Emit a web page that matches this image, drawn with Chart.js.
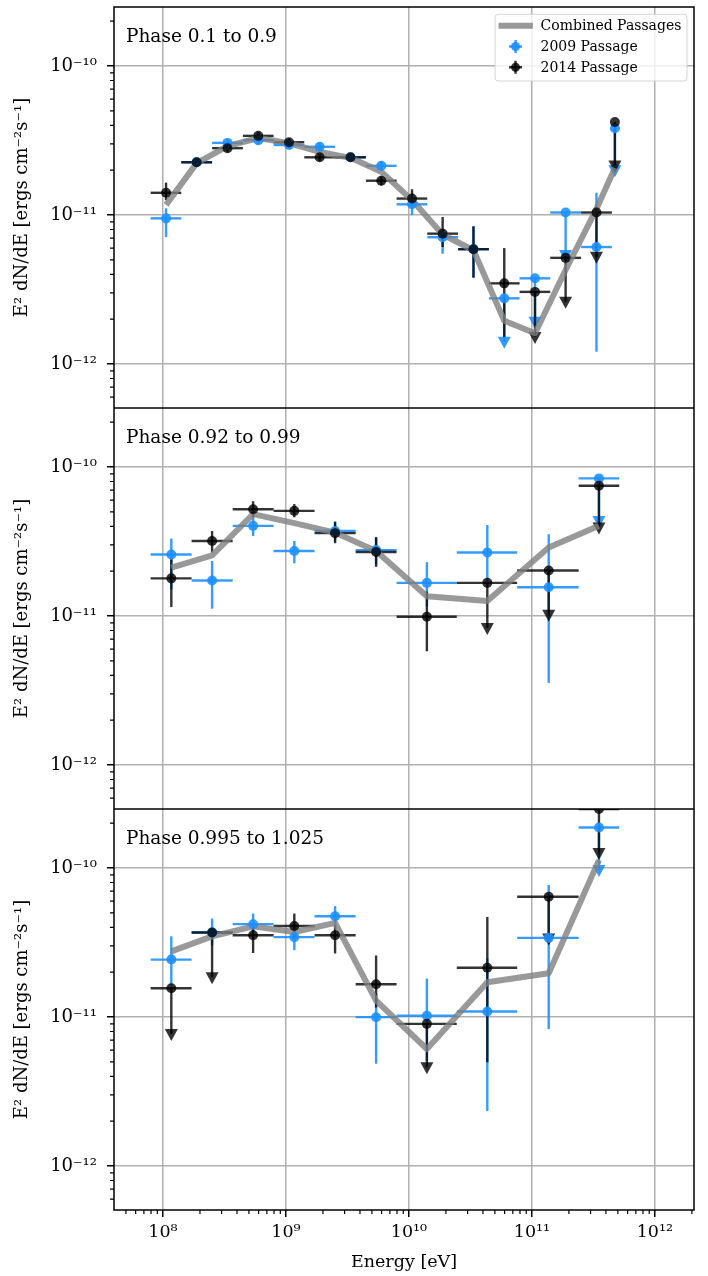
<!DOCTYPE html>
<html lang="en">
<head>
<meta charset="UTF-8" />
<title>Spectra by orbital phase</title>
<script src="https://cdn.jsdelivr.net/npm/chart.js"></script>
<style>
  html, body { margin: 0; padding: 0; background: #fff; }
  #wrap { position: relative; width: 708px; height: 1276px; }
  canvas { position: absolute; left: 0; }
</style>
</head>
<body>
<div id="wrap">
  <canvas id="topChart" width="708" height="408" style="top:0; width:708px; height:408px"></canvas>
  <canvas id="midChart" width="708" height="401" style="top:408px; width:708px; height:401px"></canvas>
  <canvas id="botChart" width="708" height="467" style="top:809px; width:708px; height:467px"></canvas>
</div>
<script>
// axis ticks
const xTickValues = [1e8, 1e9, 1e10, 1e11, 1e12];
const xTickLabels = ['10⁸', '10⁹', '10¹⁰', '10¹¹', '10¹²'];
const yTickValues = [1e-12, 1e-11, 1e-10];
const yTickLabels = ['10⁻¹²', '10⁻¹¹', '10⁻¹⁰'];
const minorMantissas = [2, 3, 4, 5, 6, 7, 8, 9];
const xMin = 4.0e7, xMax = 2.08e12;
const yMin = 5.07e-13, yMax = 2.49e-10;

const phaseLabels = ['Phase 0.1 to 0.9', 'Phase 0.92 to 0.99', 'Phase 0.995 to 1.025'];

// phase 0.1 - 0.9 (quarter decade bins)
const topEnergy = [1.06e8, 1.88e8, 3.35e8, 5.96e8, 1.06e9, 1.88e9, 3.35e9, 5.96e9, 1.06e10, 1.88e10, 3.35e10, 5.96e10, 1.06e11, 1.88e11, 3.35e11, 4.73e11];
const topELow  = [7.94e7, 1.41e8, 2.51e8, 4.47e8, 7.94e8, 1.41e9, 2.51e9, 4.47e9, 7.94e9, 1.41e10, 2.51e10, 4.47e10, 7.94e10, 1.41e11, 2.51e11, null];
const topEHigh = [1.41e8, 2.51e8, 4.47e8, 7.94e8, 1.41e9, 2.51e9, 4.47e9, 7.94e9, 1.41e10, 2.51e10, 4.47e10, 7.94e10, 1.41e11, 2.51e11, 4.47e11, null];

const top2009   = [9.5e-12, 2.26e-11, 3.05e-11, 3.18e-11, 2.95e-11, 2.87e-11, 2.44e-11, 2.14e-11, 1.18e-11, 7.1e-12, 5.9e-12, 2.76e-12, 3.76e-12, 1.04e-11, 6.1e-12, 3.82e-11];
const top2009Lo = [7.1e-12, 2.1e-11, 2.85e-11, 2.98e-11, 2.78e-11, 2.7e-11, 2.3e-11, 1.98e-11, 1.0e-11, 5.5e-12, 3.8e-12, 1.41e-12, 1.92e-12, 5.4e-12, 1.21e-12, 2.0e-11];
const top2009Hi = [1.11e-11, 2.42e-11, 3.25e-11, 3.38e-11, 3.12e-11, 3.04e-11, 2.58e-11, 2.3e-11, 1.29e-11, 8.1e-12, 8.4e-12, null, null, null, 1.41e-11, null];
const top2009UL = [0, 0, 0, 0, 0, 0, 0, 0, 0, 0, 0, 1, 1, 1, 0, 1];

const top2014   = [1.41e-11, 2.26e-11, 2.81e-11, 3.40e-11, 3.08e-11, 2.44e-11, 2.44e-11, 1.70e-11, 1.29e-11, 7.5e-12, 5.9e-12, 3.48e-12, 3.05e-12, 5.16e-12, 1.04e-11, 4.21e-11];
const top2014Lo = [1.26e-11, 2.12e-11, 2.64e-11, 3.2e-11, 2.9e-11, 2.3e-11, 2.3e-11, 1.58e-11, 1.14e-11, 6.1e-12, 3.8e-12, 1.52e-12, 1.52e-12, 2.62e-12, 5.25e-12, 2.15e-11];
const top2014Hi = [1.65e-11, 2.4e-11, 2.98e-11, 3.6e-11, 3.26e-11, 2.58e-11, 2.58e-11, 1.82e-11, 1.49e-11, 9.7e-12, 8.4e-12, 6.0e-12, null, null, null, null];
const top2014UL = [0, 0, 0, 0, 0, 0, 0, 0, 0, 0, 0, 0, 1, 1, 1, 1];

const topCombined = [1.17e-11, 2.23e-11, 2.90e-11, 3.29e-11, 3.04e-11, 2.65e-11, 2.42e-11, 1.95e-11, 1.26e-11, 7.4e-12, 5.8e-12, 1.95e-12, 1.61e-12, 4.28e-12, 1.10e-11, 2.07e-11];

// periastron phases (wider bins)
const wideEnergy = [1.17e8, 2.51e8, 5.41e8, 1.17e9, 2.51e9, 5.41e9, 1.40e10, 4.34e10, 1.37e11, 3.51e11];
const wideELow   = [7.94e7, 1.71e8, 3.69e8, 7.94e8, 1.71e9, 3.69e9, 7.94e9, 2.45e10, 7.59e10, 2.40e11];
const wideEHigh  = [1.71e8, 3.69e8, 7.94e8, 1.71e9, 3.69e9, 7.94e9, 2.45e10, 7.59e10, 2.40e11, 5.13e11];

const mid2009   = [2.59e-11, 1.73e-11, 4.03e-11, 2.73e-11, 3.72e-11, 2.77e-11, 1.67e-11, 2.67e-11, 1.56e-11, 8.39e-11];
const mid2009Lo = [1.51e-11, 1.12e-11, 3.44e-11, 2.26e-11, 3.18e-11, 2.22e-11, 1.16e-11, 1.68e-11, 3.56e-12, 4.35e-11];
const mid2009Hi = [3.31e-11, 2.34e-11, 4.60e-11, 3.19e-11, 4.33e-11, 3.38e-11, 2.30e-11, 4.08e-11, 3.54e-11, null];
const mid2009UL = [0, 0, 0, 0, 0, 0, 0, 0, 0, 1];

const mid2014   = [1.79e-11, 3.19e-11, 5.21e-11, 5.08e-11, 3.60e-11, 2.69e-11, 9.9e-12, 1.67e-11, 2.02e-11, 7.48e-11];
const mid2014Lo = [1.15e-11, 2.67e-11, 4.60e-11, 4.60e-11, 3.08e-11, 2.14e-11, 5.8e-12, 8.3e-12, 1.02e-11, 3.93e-11];
const mid2014Hi = [2.40e-11, 3.72e-11, 5.90e-11, 5.64e-11, 4.27e-11, 3.38e-11, 1.46e-11, null, null, null];
const mid2014UL = [0, 0, 0, 0, 0, 0, 0, 1, 1, 1];

const midCombined = [2.11e-11, 2.55e-11, 4.83e-11, 4.20e-11, 3.63e-11, 2.73e-11, 1.36e-11, 1.26e-11, 2.88e-11, 4.03e-11];

const bot2009   = [2.43e-11, 3.69e-11, 4.20e-11, 3.44e-11, 4.75e-11, 9.98e-12, 1.02e-11, 1.09e-11, 3.40e-11, 1.87e-10];
const bot2009Lo = [1.63e-11, 3.03e-11, 3.54e-11, 2.81e-11, 4.13e-11, 4.86e-12, 5.09e-12, 2.34e-12, 8.3e-12, 9.7e-11];
const bot2009Hi = [3.48e-11, 4.58e-11, 4.95e-11, 4.03e-11, 5.55e-11, 1.44e-11, 1.81e-11, 2.47e-11, 7.69e-11, null];
const bot2009UL = [0, 0, 0, 0, 0, 0, 0, 0, 0, 1];

const bot2014   = [1.56e-11, 3.69e-11, 3.54e-11, 4.08e-11, 3.54e-11, 1.66e-11, 9.0e-12, 2.14e-11, 6.41e-11, 2.49e-10];
const bot2014Lo = [7.7e-12, 1.85e-11, 2.69e-11, 3.38e-11, 2.67e-11, 1.16e-11, 4.6e-12, 4.97e-12, 3.37e-11, 1.26e-10];
const bot2014Hi = [null, null, 4.13e-11, 4.95e-11, 4.13e-11, 2.59e-11, null, 4.70e-11, null, null];
const bot2014UL = [1, 1, 0, 0, 0, 0, 1, 0, 1, 1];

const botCombined = [2.76e-11, 3.48e-11, 4.06e-11, 3.72e-11, 4.29e-11, 1.29e-11, 6.1e-12, 1.71e-11, 1.97e-11, 1.13e-10];

const FONT = 'DejaVu Serif';
const BLUE = 'rgba(30,144,255,0.9)';
const BLACK = 'rgba(0,0,0,0.8)';
const GREY = 'rgba(128,128,128,0.8)';

const pts = (xs, ys) => xs.map((x, i) => ({ x, y: ys[i] }));

// error bars + upper limit arrows, drawn under the combined line
const errorBars = {
  id: 'errorBars',
  beforeDatasetsDraw(chart) {
    const { ctx, chartArea: a, scales: { x, y } } = chart;
    ctx.save();
    ctx.beginPath();
    ctx.rect(a.left, a.top, a.right - a.left, a.bottom - a.top);
    ctx.clip();
    chart.data.datasets.forEach(ds => {
      const e = ds.err;
      if (!e) return;
      ctx.strokeStyle = ds.borderColor;
      ctx.fillStyle = ds.borderColor;
      ctx.lineWidth = 2.4;
      ds.data.forEach((p, i) => {
        const px = x.getPixelForValue(p.x);
        const py = y.getPixelForValue(p.y);
        if (e.xLo[i] != null) {
          ctx.beginPath();
          ctx.moveTo(x.getPixelForValue(e.xLo[i]), py);
          ctx.lineTo(x.getPixelForValue(e.xHi[i]), py);
          ctx.stroke();
        }
        const top = e.yHi[i] != null ? y.getPixelForValue(e.yHi[i]) : py;
        const bot = y.getPixelForValue(e.yLo[i]);
        ctx.beginPath();
        ctx.moveTo(px, top);
        ctx.lineTo(px, bot);
        ctx.stroke();
        if (e.ul[i]) {
          ctx.beginPath();
          ctx.moveTo(px - 6.5, bot - 5);
          ctx.lineTo(px + 6.5, bot - 5);
          ctx.lineTo(px, bot + 7);
          ctx.closePath();
          ctx.fill();
        }
      });
    });
    ctx.restore();
  }
};

function drawLegend(chart) {
  const { ctx, chartArea: a } = chart;
  const ds = chart.data.datasets;
  ctx.font = '14px "' + FONT + '"';
  const tw = Math.max(...ds.map(d => ctx.measureText(d.label).width));
  const w = 45.4 + tw + 5.6, h = 66.7;
  const bx = a.right - 7 - w, by = a.top + 7.3;
  ctx.beginPath();
  if (ctx.roundRect) ctx.roundRect(bx, by, w, h, 3); else ctx.rect(bx, by, w, h);
  ctx.fillStyle = 'rgba(255,255,255,0.8)';
  ctx.fill();
  ctx.strokeStyle = 'rgba(204,204,204,0.8)';
  ctx.lineWidth = 1;
  ctx.stroke();
  ds.forEach((d, i) => {
    const cy = by + 11.4 + i * 20.8;
    const mx = bx + 20.4;
    if (d.showLine) {
      ctx.strokeStyle = d.borderColor;
      ctx.lineWidth = 6;
      ctx.beginPath();
      ctx.moveTo(bx + 3.4, cy);
      ctx.lineTo(bx + 37.7, cy);
      ctx.stroke();
    } else {
      ctx.strokeStyle = d.borderColor;
      ctx.fillStyle = d.borderColor;
      ctx.lineWidth = 2.4;
      ctx.beginPath();
      ctx.moveTo(mx - 6.5, cy); ctx.lineTo(mx + 6.5, cy);
      ctx.moveTo(mx, cy - 6.5); ctx.lineTo(mx, cy + 6.5);
      ctx.stroke();
      ctx.beginPath();
      ctx.arc(mx, cy, 4.5, 0, Math.PI * 2);
      ctx.fill();
    }
    ctx.fillStyle = '#000';
    ctx.textAlign = 'left';
    ctx.textBaseline = 'middle';
    ctx.fillText(d.label, bx + 45.4, cy + 1);
  });
}

// frame, minor ticks, phase label, legend
const decor = {
  id: 'decor',
  afterDraw(chart, args, opts) {
    const { ctx, chartArea: a, scales: { x, y } } = chart;
    ctx.save();
    ctx.strokeStyle = '#000';
    ctx.lineWidth = 1.2;
    ctx.beginPath();
    for (let e = -13; e <= -10; e++) {
      minorMantissas.forEach(m => {
        const v = m * Math.pow(10, e);
        if (v <= y.min || v >= y.max) return;
        const py = y.getPixelForValue(v);
        ctx.moveTo(a.left - 4, py);
        ctx.lineTo(a.left, py);
      });
    }
    if (opts.minorX) {
      for (let e = 7; e <= 12; e++) {
        minorMantissas.forEach(m => {
          const v = m * Math.pow(10, e);
          if (v <= x.min || v >= x.max) return;
          const px = x.getPixelForValue(v);
          ctx.moveTo(px, a.bottom);
          ctx.lineTo(px, a.bottom + 4);
        });
      }
    }
    ctx.stroke();

    ctx.lineWidth = 1.5;
    ctx.strokeRect(a.left, a.top, a.right - a.left, a.bottom - a.top);

    ctx.fillStyle = '#000';
    ctx.font = '18.5px "' + FONT + '"';
    ctx.textAlign = 'left';
    ctx.textBaseline = 'alphabetic';
    ctx.fillText(opts.label, a.left + 12, a.top + 34.7);

    if (opts.legend) drawLegend(chart);
    ctx.restore();
  }
};

function makePanel(id, o) {
  const showX = !!o.showX;
  const datasets = [
    {
      label: 'Combined Passages',
      data: pts(o.energy, o.combined),
      showLine: true,
      borderColor: GREY,
      backgroundColor: GREY,
      borderWidth: 6,
      borderJoinStyle: 'round',
      pointRadius: 0,
      order: 3
    },
    {
      label: '2009 Passage',
      data: pts(o.energy, o.y2009),
      borderColor: BLUE,
      backgroundColor: BLUE,
      borderWidth: 0,
      pointRadius: 5,
      order: 2,
      err: { xLo: o.eLow, xHi: o.eHigh, yLo: o.lo2009, yHi: o.hi2009, ul: o.ul2009 }
    },
    {
      label: '2014 Passage',
      data: pts(o.energy, o.y2014),
      borderColor: BLACK,
      backgroundColor: BLACK,
      borderWidth: 0,
      pointRadius: 5,
      order: 1,
      err: { xLo: o.eLow, xHi: o.eHigh, yLo: o.lo2014, yHi: o.hi2014, ul: o.ul2014 }
    }
  ];

  return new Chart(document.getElementById(id), {
    type: 'scatter',
    data: { datasets },
    plugins: [errorBars, decor],
    options: {
      responsive: false,
      animation: false,
      events: [],
      layout: { autoPadding: false, padding: { top: o.padTop || 0, right: 14, left: 0, bottom: 0 } },
      plugins: {
        legend: { display: false },
        tooltip: { enabled: false },
        decor: { label: o.label, legend: !!o.legend, minorX: showX }
      },
      scales: {
        x: {
          type: 'logarithmic',
          min: xMin,
          max: xMax,
          afterBuildTicks: s => { s.ticks = xTickValues.map(v => ({ value: v })); },
          afterFit: s => {
            s.height = showX ? 66 : 0;
            s.paddingLeft = 0; s.paddingRight = 0;
          },
          ticks: {
            display: showX,
            autoSkip: false,
            maxRotation: 0,
            callback: (v, i) => xTickLabels[i],
            font: { family: FONT, size: 17.5 },
            color: '#000',
            padding: 5
          },
          grid: { color: '#b0b0b0', lineWidth: 1.5, drawTicks: showX, tickLength: 7, tickColor: '#000', tickWidth: 1.5 },
          border: { display: false },
          title: {
            display: showX,
            text: 'Energy [eV]',
            font: { family: FONT, size: 17.5 },
            color: '#000',
            padding: { top: 0, bottom: 3 }
          }
        },
        y: {
          type: 'logarithmic',
          min: yMin,
          max: yMax,
          afterBuildTicks: s => { s.ticks = yTickValues.map(v => ({ value: v })); },
          afterFit: s => {
            s.width = 114;
            s.paddingTop = 0; s.paddingBottom = 0;
          },
          ticks: {
            autoSkip: false,
            callback: (v, i) => yTickLabels[i],
            font: { family: FONT, size: 18 },
            color: '#000',
            padding: 10
          },
          grid: { color: '#b0b0b0', lineWidth: 1.5, tickLength: 7, tickColor: '#000', tickWidth: 1.5 },
          border: { display: false },
          title: {
            display: true,
            text: 'E² dN/dE [ergs cm⁻²s⁻¹]',
            font: { family: FONT, size: 18 },
            color: '#000',
            padding: { top: 12, bottom: 0 }
          }
        }
      }
    }
  });
}

makePanel('topChart', {
  label: phaseLabels[0], legend: true, padTop: 7,
  energy: topEnergy, eLow: topELow, eHigh: topEHigh, combined: topCombined,
  y2009: top2009, lo2009: top2009Lo, hi2009: top2009Hi, ul2009: top2009UL,
  y2014: top2014, lo2014: top2014Lo, hi2014: top2014Hi, ul2014: top2014UL
});

makePanel('midChart', {
  label: phaseLabels[1],
  energy: wideEnergy, eLow: wideELow, eHigh: wideEHigh, combined: midCombined,
  y2009: mid2009, lo2009: mid2009Lo, hi2009: mid2009Hi, ul2009: mid2009UL,
  y2014: mid2014, lo2014: mid2014Lo, hi2014: mid2014Hi, ul2014: mid2014UL
});

makePanel('botChart', {
  label: phaseLabels[2], showX: true,
  energy: wideEnergy, eLow: wideELow, eHigh: wideEHigh, combined: botCombined,
  y2009: bot2009, lo2009: bot2009Lo, hi2009: bot2009Hi, ul2009: bot2009UL,
  y2014: bot2014, lo2014: bot2014Lo, hi2014: bot2014Hi, ul2014: bot2014UL
});
</script>
</body>
</html>
